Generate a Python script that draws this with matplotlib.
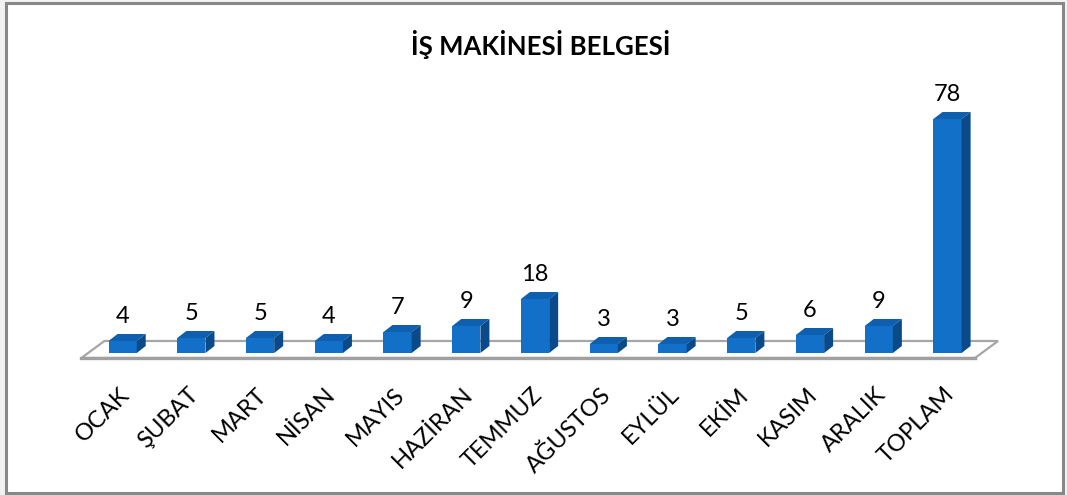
"""
İş makinesi belgesi - monthly counts as a 3D-looking bar chart.
"""

import matplotlib.pyplot as plt
from matplotlib.patches import Polygon, Rectangle
from matplotlib.transforms import ScaledTranslation

months = ["OCAK", "ŞUBAT", "MART", "NİSAN", "MAYIS", "HAZİRAN", "TEMMUZ",
          "AĞUSTOS", "EYLÜL", "EKİM", "KASIM", "ARALIK", "TOPLAM"]
counts = [4, 5, 5, 4, 7, 9, 18, 3, 3, 5, 6, 9, 78]

plt.rcParams["font.family"] = ["Lato", "DejaVu Sans"]

front_color = "#1270c8"
top_color = "#0f5fb0"
side_color = "#0b4a88"

fig = plt.figure(figsize=(10.67, 4.95), dpi=100)
fig.patch.set_facecolor("#f2f2f2")
# chart border, kept behind the axes
fig.patches.append(Rectangle((0.006, 0.004), 0.99, 0.99, transform=fig.transFigure,
                             facecolor="white", edgecolor="#888888", linewidth=2.2, zorder=-5))

ax = fig.add_axes([80 / 1067, (495 - 358) / 495, (975 - 80) / 1067, (358 - 60) / 495])
ax.set_zorder(2)
ax.set_xlim(-0.62, 12.4)
ax.set_ylim(-1.67, 97.67)
for s in ax.spines.values():
    s.set_visible(False)
ax.set_facecolor("none")
ax.tick_params(left=False, labelleft=False, bottom=False)

# depth of the 3D effect in data units
width = 0.41
dx, dy = 0.131, 2.33

# floor
x_lo, x_hi = -0.6, 12.4
fdx, fdy = 0.335, 5.67
floor = Polygon([(x_lo, -1.67), (x_lo + fdx, -1.67 + fdy), (x_hi + fdx, -1.67 + fdy), (x_hi, -1.67)],
                closed=True, facecolor="white", edgecolor="#a6a6a6", linewidth=1.6, clip_on=False, zorder=1)
ax.add_patch(floor)
ax.plot([x_lo, x_hi], [-1.67, -1.67], color="#a0a0a0", linewidth=2.4, clip_on=False, zorder=1.5)

x = list(range(len(months)))
ax.bar(x, counts, width=width, color=front_color, zorder=3)
for i, v in zip(x, counts):
    x0, x1 = i - width / 2, i + width / 2
    ax.add_patch(Polygon([(x0, v), (x0 + dx, v + dy), (x1 + dx, v + dy), (x1, v)],
                         closed=True, facecolor=top_color, edgecolor="none", zorder=3, clip_on=False))
    ax.add_patch(Polygon([(x1, 0), (x1, v), (x1 + dx, v + dy), (x1 + dx, dy)],
                         closed=True, facecolor=side_color, edgecolor="none", zorder=3, clip_on=False))
    ax.annotate(str(v), (i, v + dy), xytext=(0, 5), textcoords="offset points",
                ha="center", va="bottom", fontsize=17, color="black")

ax.set_xticks(x)
ax.set_xticklabels(months, rotation=45, ha="right", va="top", rotation_mode="anchor", fontsize=17)
ax.tick_params(axis="x", pad=15)
shift = ScaledTranslation(-4 / 100, 0, fig.dpi_scale_trans)
for lab in ax.get_xticklabels():
    lab.set_transform(lab.get_transform() + shift)

fig.text(0.507, 0.91, "İŞ MAKİNESİ BELGESİ", ha="center", va="center", fontsize=18.5, fontweight="bold")

fig.savefig("out.png", dpi=100)
plt.close(fig)
